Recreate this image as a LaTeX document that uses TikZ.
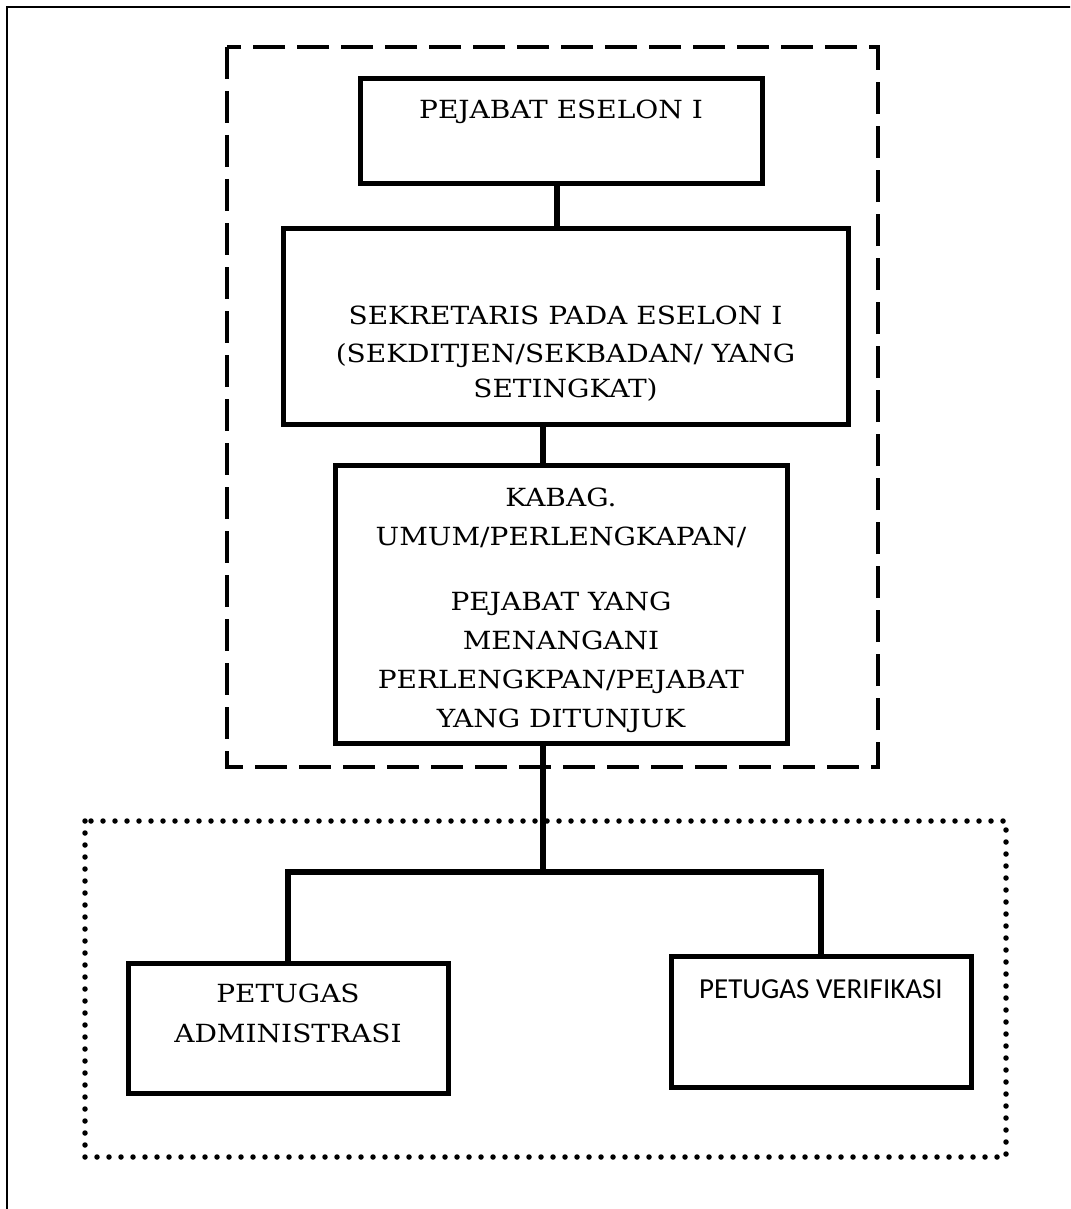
\documentclass[tikz,border=0pt]{standalone}
\usepackage{fontspec}
\newfontfamily\calibrilike{Carlito}
\newfontfamily\bookmanlike[FakeStretch=1.12]{DejaVu Serif}
\begin{document}
\begin{tikzpicture}[x=1pt,y=-1pt,
  unitbox/.style={draw, line width=5pt, inner sep=0pt},
  lbl/.style={anchor=base, inner sep=0pt, font=\bookmanlike\fontsize{25}{38}\selectfont},
  lblsans/.style={anchor=base, inner sep=0pt, font=\calibrilike\fontsize{29}{36}\selectfont},
  link/.style={line width=5.5pt},
  groupdash/.style={line width=4pt, dash pattern=on 32pt off 12pt},
  groupdot/.style={line width=5.5pt, line cap=round, dash pattern=on 0pt off 12pt},
  frameline/.style={line width=2pt}]
\path[use as bounding box, clip] (0,0) rectangle (1070,1209);
\fill[white] (0,0) rectangle (1070,1209);

% page frame
\draw[frameline] (7,1220) -- (7,7.5) -- (1080,7.5);

% group frames
\draw[groupdash] (227,47) rectangle (878,767);
\draw[groupdot] (85,821) rectangle (1006,1157);

% boxes
\node[unitbox, minimum width=402pt, minimum height=105pt] (b1) at (561,131.5) {};
\node[unitbox, minimum width=565pt, minimum height=196pt] (b2) at (565.5,326) {};
\node[unitbox, minimum width=452pt, minimum height=278pt] (b3) at (561,604) {};
\node[unitbox, minimum width=320pt, minimum height=130pt] (adm) at (288,1028) {};
\node[unitbox, minimum width=300pt, minimum height=131pt] (ver) at (821,1021.5) {};

% labels
\node[lbl] (t1) at (561,119) {PEJABAT ESELON I};
\node[lbl] (t2a) at (565.5,324) {SEKRETARIS PADA ESELON I};
\node[lbl] (t2b) at (565.5,362) {(SEKDITJEN/SEKBADAN/ YANG};
\node[lbl] (t2c) at (565.5,397) {SETINGKAT)};
\node[lbl] (t3a) at (561,506) {KABAG.};
\node[lbl] (t3b) at (561,545) {UMUM/PERLENGKAPAN/};
\node[lbl] (t3c) at (561,610) {PEJABAT YANG};
\node[lbl] (t3d) at (561,649) {MENANGANI};
\node[lbl] (t3e) at (561,688) {PERLENGKPAN/PEJABAT};
\node[lbl] (t3f) at (561,727) {YANG DITUNJUK};
\node[lbl] (t4a) at (288,1002) {PETUGAS};
\node[lbl] (t4b) at (288,1042) {ADMINISTRASI};
\node[lblsans] (t5) at (821,998) {PETUGAS VERIFIKASI};

% connectors
\coordinate (jn) at (543,872);
\draw[link] ([xshift=-4pt]b1.south) -- ([xshift=-4pt]b1.south |- b2.north);
\draw[link] ([xshift=-22.5pt]b2.south) -- ([xshift=-22.5pt]b2.south |- b3.north);
\draw[link] (b3.south -| jn) -- (jn);
\draw[link] (adm.north) -- (adm.north |- jn) -- (ver.north |- jn) -- (ver.north);
\end{tikzpicture}
\end{document}
